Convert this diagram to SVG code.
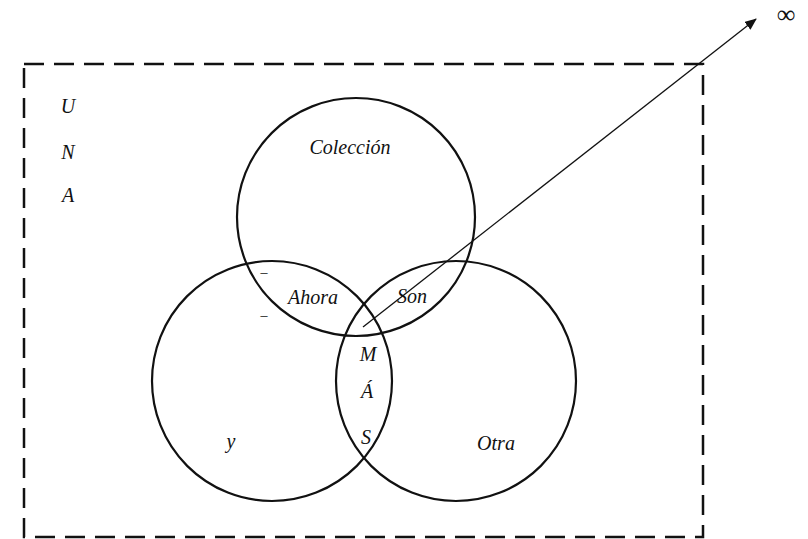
<svg xmlns="http://www.w3.org/2000/svg" width="808" height="539" viewBox="0 0 808 539">
<style>
.t{font-family:"Liberation Serif","Times New Roman",serif;font-style:italic;font-size:20px;fill:#111;text-anchor:middle}
.c{fill:none;stroke:#111;stroke-width:2.2}
</style>
<defs>
<marker id="ah" markerWidth="12" markerHeight="10" refX="11" refY="5" orient="auto" markerUnits="userSpaceOnUse">
<path d="M0,0 L12,5 L0,10 Z" fill="#111"/>
</marker>
</defs>
<rect width="808" height="539" fill="#fff"/>
<g id="universe">
<rect x="24" y="64" width="679" height="473" fill="none" stroke="#111" stroke-width="2.5" stroke-dasharray="20 10"/>
<text class="t" x="68" y="113">U</text>
<text class="t" x="68" y="159">N</text>
<text class="t" x="68" y="202">A</text>
</g>
<g id="coleccion">
<circle class="c" cx="356" cy="217" r="119"/>
<text class="t" x="350" y="154">Colección</text>
</g>
<g id="y">
<circle class="c" cx="272" cy="381" r="120"/>
<text class="t" x="231" y="448">y</text>
</g>
<g id="otra">
<circle class="c" cx="456" cy="381" r="120"/>
<text class="t" x="496" y="450">Otra</text>
</g>
<g id="labels">
<text class="t" x="313" y="304">Ahora</text>
<text class="t" x="412" y="303">Son</text>
<text class="t" x="368" y="361">M</text>
<text class="t" x="367" y="398">Á</text>
<text class="t" x="366" y="444">S</text>
<text class="t" x="264" y="277" style="font-size:14px;font-style:normal">–</text>
<text class="t" x="264" y="320" style="font-size:14px;font-style:normal">–</text>
</g>
<g id="connectors">
<line x1="363" y1="327" x2="756" y2="19" stroke="#111" stroke-width="1.3" marker-end="url(#ah)"/>
<text x="786" y="23" style="font-family:'Liberation Serif','Times New Roman',serif;font-size:26px;fill:#111;text-anchor:middle">∞</text>
</g>
</svg>
